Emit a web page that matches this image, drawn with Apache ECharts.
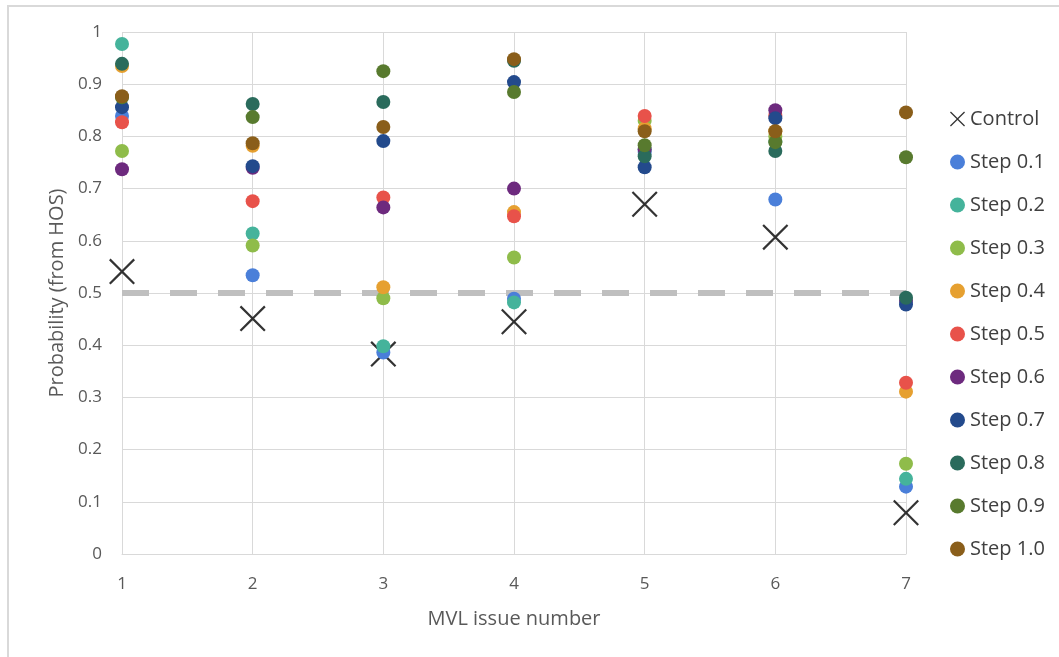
<!DOCTYPE html>
<html>
<head>
<meta charset="utf-8">
<script src="https://cdn.jsdelivr.net/npm/echarts@6/dist/echarts.min.js"></script>
<style>html,body{margin:0;padding:0;background:#fff;}#c{width:1059px;height:657px;}</style>
</head>
<body>
<div id="c"></div>
<script>
// ---- data ----
const issues = [1, 2, 3, 4, 5, 6, 7];
const yTicks = [0, 0.1, 0.2, 0.3, 0.4, 0.5, 0.6, 0.7, 0.8, 0.9, 1];
const threshold = 0.5;
const control = [0.541, 0.451, 0.383, 0.445, 0.670, 0.607, 0.079];
const step01 = [0.839, 0.534, 0.386, 0.489, 0.770, 0.679, 0.129];
const step02 = [0.977, 0.614, 0.398, 0.482, 0.775, 0.790, 0.144];
const step03 = [0.772, 0.591, 0.490, 0.568, 0.830, 0.800, 0.173];
const step04 = [0.935, 0.782, 0.511, 0.655, 0.815, 0.810, 0.311];
const step05 = [0.827, 0.676, 0.683, 0.647, 0.839, 0.840, 0.328];
const step06 = [0.737, 0.740, 0.664, 0.700, 0.775, 0.850, 0.485];
const step07 = [0.856, 0.743, 0.791, 0.904, 0.741, 0.835, 0.478];
const step08 = [0.939, 0.862, 0.866, 0.945, 0.762, 0.772, 0.491];
const step09 = [0.875, 0.837, 0.925, 0.885, 0.783, 0.789, 0.760];
const step10 = [0.877, 0.787, 0.818, 0.948, 0.810, 0.810, 0.846];
const stepNames = ['Step 0.1','Step 0.2','Step 0.3','Step 0.4','Step 0.5','Step 0.6','Step 0.7','Step 0.8','Step 0.9','Step 1.0'];
const stepValues = [step01, step02, step03, step04, step05, step06, step07, step08, step09, step10];
const stepColors = ['#4a7fd9','#45b39b','#8fbc4a','#e6a030','#e8524a','#6d2a7e','#234a8c','#2a6b5c','#587a2e','#8a5e1a'];

const xPath = 'path://M0,6L6,0L50,44L94,0L100,6L56,50L100,94L94,100L50,56L6,100L0,94L44,50Z';
const font = 'Open Sans';

const pairs = vals => issues.map((x, i) => [x, vals[i]]);

const series = [
  {
    name: 'threshold', type: 'line', data: [[issues[0], threshold], [issues[issues.length-1], threshold]],
    symbol: 'none', silent: true, z: 1,
    lineStyle: { color: '#bfbfbf', width: 6, type: [27, 21] }
  },
  {
    name: 'Control', type: 'scatter', data: pairs(control), symbol: xPath, symbolSize: 26, z: 2,
    itemStyle: { color: '#000' }
  }
];
stepNames.forEach((n, i) => {
  series.push({
    name: n, type: 'scatter', data: pairs(stepValues[i]), symbol: 'circle', symbolSize: 14, z: 3,
    itemStyle: { color: stepColors[i], opacity: 1 }
  });
});

const chart = echarts.init(document.getElementById('c'));
chart.setOption({
  animation: false,
  backgroundColor: '#fff',
  graphic: [
    { type: 'rect', shape: { x: 8, y: 6, width: 1200, height: 800 }, style: { fill: 'none', stroke: '#d9d9d9', lineWidth: 2 }, z: -10 },
    { type: 'text', left: 2, top: -22, style: { text: 'Figure 7. Probability of MVL issue being accepted by step size, compared with control', font: '22px "Liberation Serif"', fill: '#000' } }
  ],
  grid: { left: 122, right: 153, top: 32, bottom: 103 },
  legend: {
    orient: 'vertical', left: 945, top: 104,
    itemWidth: 15, itemHeight: 20, itemGap: 23,
    data: ['Control'].concat(stepNames).map(n => ({ name: n, icon: n === 'Control' ? xPath : 'circle' })),
    textStyle: { fontFamily: font, fontSize: 20, color: '#404040', lineHeight: 20, padding: [0, 0, 0, 0] }
  },
  xAxis: {
    type: 'value', min: 1, max: 7, interval: 1,
    name: 'MVL issue number', nameLocation: 'middle', nameGap: 55,
    nameTextStyle: { fontFamily: font, fontSize: 20, color: '#595959' },
    axisLine: { show: true, lineStyle: { color: '#d9d9d9', width: 1 } },
    axisTick: { show: false },
    axisLabel: { fontFamily: font, fontSize: 17, color: '#595959', margin: 22 },
    splitLine: { show: true, lineStyle: { color: '#d9d9d9', width: 1 } }
  },
  yAxis: {
    type: 'value', min: yTicks[0], max: yTicks[yTicks.length-1], interval: 0.1,
    name: 'Probability (from HOS)', nameLocation: 'middle', nameGap: 54,
    nameTextStyle: { fontFamily: font, fontSize: 20, color: '#595959' },
    axisLine: { show: false },
    axisTick: { show: false },
    axisLabel: { fontFamily: font, fontSize: 17, color: '#595959', margin: 20 },
    splitLine: { show: true, lineStyle: { color: '#d9d9d9', width: 1 } }
  },
  series: series
});
</script>
</body>
</html>
